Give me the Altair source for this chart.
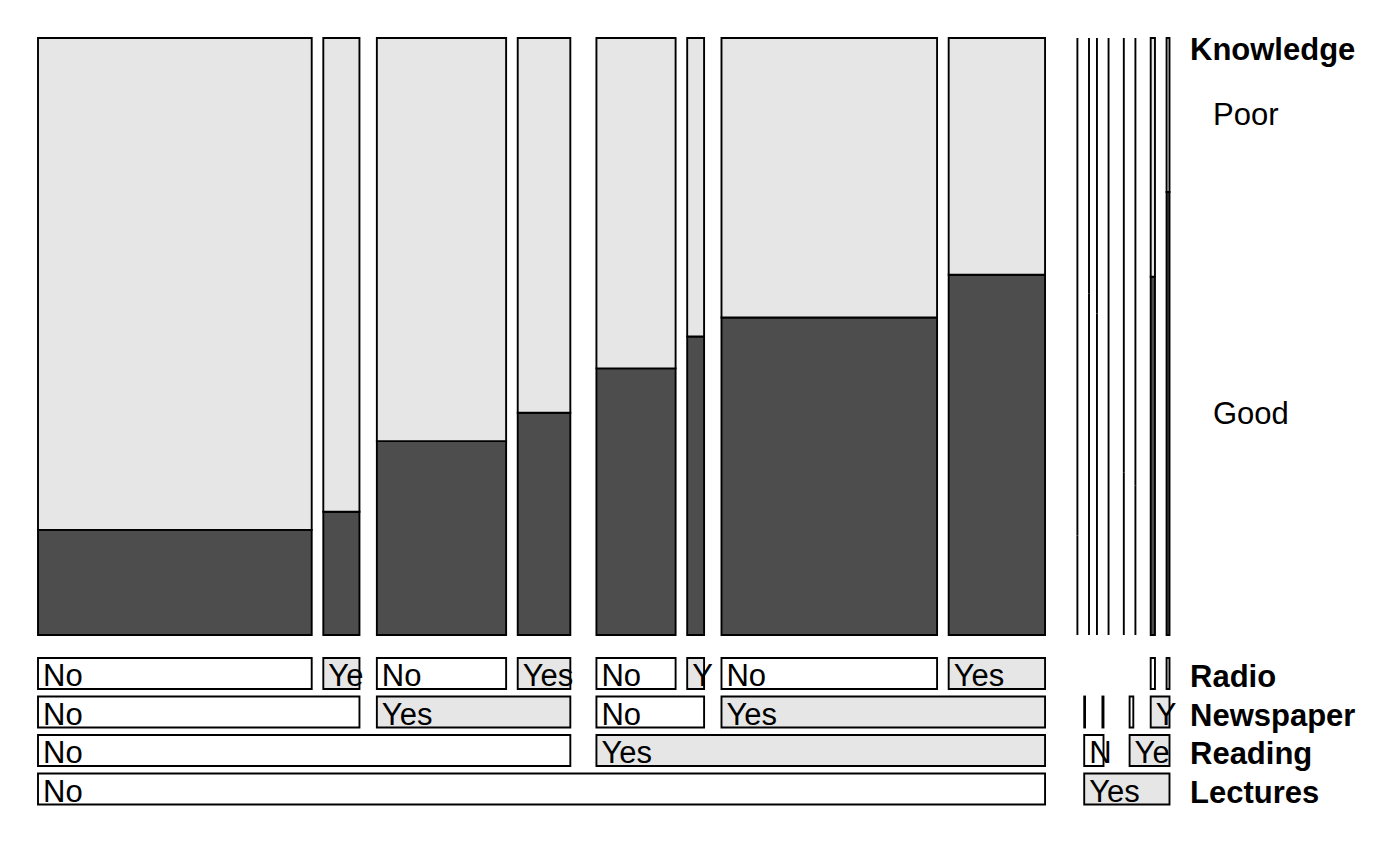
import altair as alt
import pandas as pd

# ---- data: Dyke & Patterson cancer knowledge (cells ordered Lectures > Reading > Newspaper > Radio)
lectures  = ["No"] * 8 + ["Yes"] * 8
reading   = (["No"] * 4 + ["Yes"] * 4) * 2
newspaper = (["No"] * 2 + ["Yes"] * 2) * 4
radio     = ["No", "Yes"] * 8
good = [84, 13, 75, 35, 67, 16, 201, 102, 2, 4, 7, 8, 3, 1, 27, 23]
poor = [393, 50, 156, 59, 83, 16, 177, 67, 10, 3, 6, 4, 8, 3, 18, 8]

var_names = ["Lectures", "Reading", "Newspaper", "Radio"]
levels = ["No", "Yes"]

# ---- layout parameters (style only)
GAPS = [39.15, 26.1, 17.4, 11.6]
X0, X1 = 38.0, 1169.5
Y_TOP, Y_BOT = 38.0, 635.0
ROW_TOP0, ROW_H, ROW_STEP = 658.0, 31.0, 38.5
FS = 31
DX = 5
FONT = "Liberation Sans"
LIGHT, DARK = "#E6E6E6", "#4D4D4D"
SW = 1.9

vars_ = [lectures, reading, newspaper, radio]
totals = [g + p for g, p in zip(good, poor)]

boxes, leaves = [], {}


def layout(indices, level, x0, w):
    if level == 4:
        leaves[indices[0]] = (x0, w)
        return
    groups = [[i for i in indices if vars_[level][i] == v] for v in levels]
    tot = sum(totals[i] for i in indices)
    avail = w - GAPS[level] * (len(groups) - 1)
    x = x0
    for v, g in zip(levels, groups):
        gw = avail * sum(totals[i] for i in g) / tot
        boxes.append(dict(level=level, value=v, x=x, w=gw))
        layout(g, level + 1, x, gw)
        x += gw + GAPS[level]


layout(list(range(16)), 0, X0, X1 - X0)

# ---- bar cells
rows = []
for i in range(16):
    x0, w = leaves[i]
    if w > 0:
        xa, xb = x0, x0 + w
    else:
        pos = x0 + w if radio[i] == "No" else x0
        xa = xb = pos
    yb = Y_BOT - (Y_BOT - Y_TOP) * good[i] / totals[i]
    rows.append(dict(cell=i, Knowledge="Good", x=xa, x2=xb, y=yb, y2=Y_BOT))
    rows.append(dict(cell=i, Knowledge="Poor", x=xa, x2=xb, y=Y_TOP, y2=yb))
bars = pd.DataFrame(rows)

# ---- label boxes
adv = {"N": 0.722, "o": 0.556, "Y": 0.667, "e": 0.556, "s": 0.5}


def fit(text, width):
    out, cum = "", 0.0
    for ch in text:
        cw = adv[ch] * FS
        if cum + cw / 2 <= width - DX:
            out += ch
            cum += cw
        else:
            break
    return out


lab_rows = []
for b in boxes:
    if b["w"] <= 0:
        continue
    top = ROW_TOP0 + ROW_STEP * (3 - b["level"])
    lab_rows.append(dict(Answer=b["value"], x=b["x"], x2=b["x"] + b["w"],
                         y=top, y2=top + ROW_H, ty=top + ROW_H - 3,
                         label=fit(b["value"], b["w"])))
labs = pd.DataFrame(lab_rows)

# ---- right-hand labels
last = 15
bnd = Y_BOT - (Y_BOT - Y_TOP) * good[last] / totals[last]
know = pd.DataFrame([
    dict(label="Poor", x=1213, y=(Y_TOP + bnd) / 2 + 1),
    dict(label="Good", x=1213, y=(bnd + Y_BOT) / 2 + 1),
])
titles = pd.DataFrame(
    [dict(label="Knowledge", x=1190, y=60)]
    + [dict(label=var_names[k], x=1190, y=ROW_TOP0 + ROW_STEP * (3 - k) + ROW_H - 2) for k in range(4)]
)

xs = alt.Scale(domain=[0, 1400], nice=False, zero=False)
ys = alt.Scale(domain=[0, 866], nice=False, zero=False, reverse=True)

bar_layer = alt.Chart(bars).mark_rect(stroke="black", strokeWidth=SW).encode(
    x=alt.X("x:Q", scale=xs, axis=None), x2="x2:Q",
    y=alt.Y("y:Q", scale=ys, axis=None), y2="y2:Q",
    fill=alt.Fill("Knowledge:N", scale=alt.Scale(domain=["Good", "Poor"], range=[DARK, LIGHT]), legend=None),
)

box_layer = alt.Chart(labs).mark_rect(stroke="black", strokeWidth=SW).encode(
    x=alt.X("x:Q", scale=xs, axis=None), x2="x2:Q",
    y=alt.Y("y:Q", scale=ys, axis=None), y2="y2:Q",
    fill=alt.Fill("Answer:N", scale=alt.Scale(domain=["No", "Yes"], range=["white", LIGHT]), legend=None),
)

box_text = alt.Chart(labs).mark_text(align="left", baseline="alphabetic", dx=DX, font=FONT, fontSize=FS, color="black").encode(
    x=alt.X("x:Q", scale=xs, axis=None),
    y=alt.Y("ty:Q", scale=ys, axis=None),
    text="label:N",
)

know_text = alt.Chart(know).mark_text(align="left", baseline="middle", font=FONT, fontSize=FS, color="black").encode(
    x=alt.X("x:Q", scale=xs, axis=None),
    y=alt.Y("y:Q", scale=ys, axis=None),
    text="label:N",
)

title_text = alt.Chart(titles).mark_text(align="left", baseline="alphabetic", font=FONT, fontSize=FS,
                                         fontWeight="bold", color="black").encode(
    x=alt.X("x:Q", scale=xs, axis=None),
    y=alt.Y("y:Q", scale=ys, axis=None),
    text="label:N",
)

chart = alt.layer(bar_layer, box_layer, box_text, know_text, title_text).resolve_scale(
    fill="independent"
).properties(
    width=1400, height=866, autosize=alt.AutoSizeParams(type="none"), padding=0,
    background="white",
).configure_view(stroke=None)

chart.save("out.html", embed_options={"renderer": "svg", "actions": False})
